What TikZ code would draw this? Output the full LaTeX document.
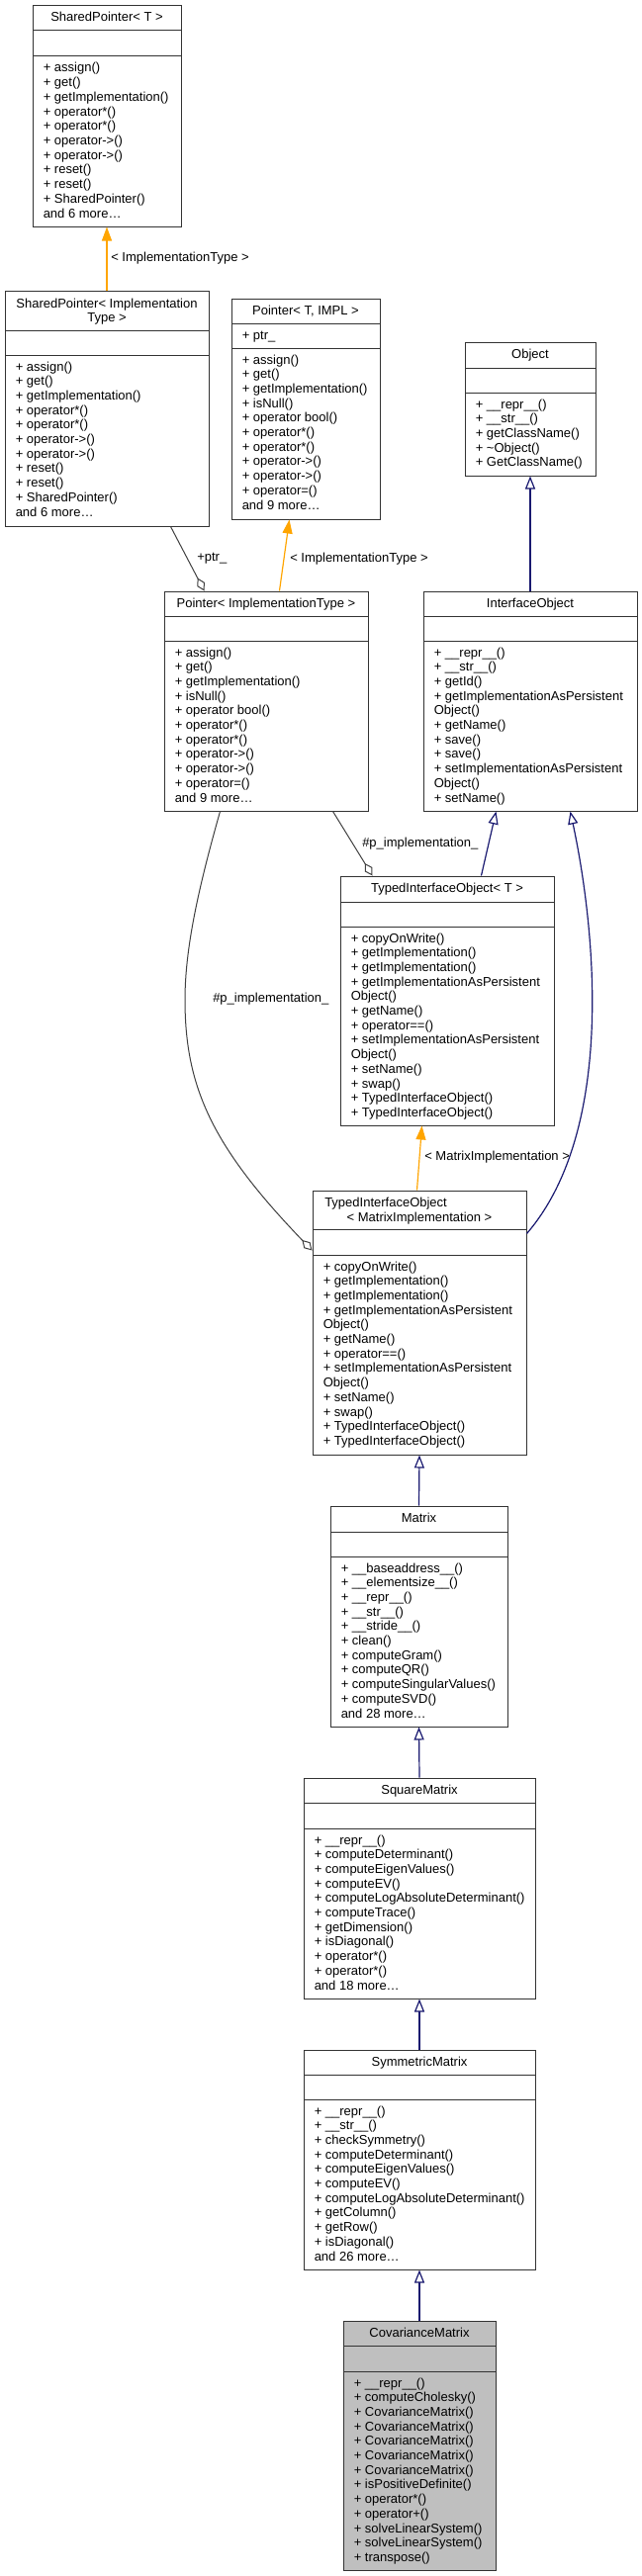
\documentclass[tikz,border=0pt]{standalone}
\usepackage{fontspec}
\setmainfont{Liberation Sans}
\usetikzlibrary{arrows.meta,fit,calc}
\definecolor{inhcol}{HTML}{191970}
\definecolor{tmplcol}{HTML}{FFA500}
\definecolor{usecol}{HTML}{404040}
\definecolor{covfill}{HTML}{BFBFBF}
\newcommand\umlfont{\fontsize{9.75}{11}\selectfont}
\newcommand\mlist[4]{\foreach \mitem [count=\mcount] in {#4} {\node[mtext] (#1-\mcount) at (#2,{#3+(\mcount-1)*14.7}) {\mitem};}}
\begin{document}
\begin{tikzpicture}[x=0.75pt,y=-0.75pt,
  every node/.style={font=\umlfont},
  cbox/.style={draw=black!80, line width=0.75pt, inner sep=0pt},
  sepline/.style={draw=black!80, line width=0.75pt},
  ttl/.style={anchor=base, inner sep=0pt},
  ttlw/.style={anchor=base west, inner sep=0pt},
  mtext/.style={anchor=base west, inner sep=0pt},
  elabel/.style={anchor=west, inner sep=0pt},
  inhline/.style={draw=inhcol, line width=0.9pt, -{Triangle[open, length=9.75pt, width=7.5pt]}},
  tmplline/.style={draw=tmplcol, line width=0.9pt, -{Triangle[length=10.5pt, width=7.5pt]}},
  useline/.style={draw=usecol, line width=0.75pt, -{Diamond[open, length=11pt, width=6.5pt]}}]
\useasboundingbox (0,0) rectangle (649,2605);
\fill[white] (0,0) rectangle (649,2605);

% SharedPointer< T >
\node[cbox, fit={(33,6) (183,229)}] (sp) {};
\draw[sepline] (33,31) -- (183,31);
\draw[sepline] (33,57) -- (183,57);
\node[ttl] (sp-t) at (108,22) {SharedPointer< T >};
\mlist{sp}{43.5}{73}{+ assign(), + get(), + getImplementation(), + operator*(), + operator*(), + operator->(), + operator->(), + reset(), + reset(), + SharedPointer(), and 6 more\ldots}

% SharedPointer< ImplementationType >
\node[cbox, fit={(5,294) (211,532)}] (spi) {};
\draw[sepline] (5,334) -- (211,334);
\draw[sepline] (5,359) -- (211,359);
\node[ttl] (spi-t1) at (108,311) {SharedPointer< Implementation};
\node[ttl] (spi-t2) at (108,325.5) {Type >};
\mlist{spi}{15.5}{375}{+ assign(), + get(), + getImplementation(), + operator*(), + operator*(), + operator->(), + operator->(), + reset(), + reset(), + SharedPointer(), and 6 more\ldots}

% Pointer< T, IMPL >
\node[cbox, fit={(234,302) (384,525)}] (pti) {};
\draw[sepline] (234,327) -- (384,327);
\draw[sepline] (234,352) -- (384,352);
\node[ttl] (pti-t) at (309,318) {Pointer< T, IMPL >};
\node[mtext] (pti-a) at (244.5,343) {+ ptr\_};
\mlist{pti}{244.5}{368}{+ assign(), + get(), + getImplementation(), + isNull(), + operator bool(), + operator*(), + operator*(), + operator->(), + operator->(), + operator=(), and 9 more\ldots}

% Object
\node[cbox, fit={(470,346) (602,481)}] (obj) {};
\draw[sepline] (470,372) -- (602,372);
\draw[sepline] (470,397) -- (602,397);
\node[ttl] (obj-t) at (536,362) {Object};
\mlist{obj}{480.5}{413}{+ \_\_repr\_\_(), + \_\_str\_\_(), + getClassName(), + \textasciitilde Object(), + GetClassName()}

% Pointer< ImplementationType >
\node[cbox, fit={(166,598) (372,820)}] (pimpl) {};
\draw[sepline] (166,623) -- (372,623);
\draw[sepline] (166,648) -- (372,648);
\node[ttl] (pimpl-t) at (269,614) {Pointer< ImplementationType >};
\mlist{pimpl}{176.5}{664}{+ assign(), + get(), + getImplementation(), + isNull(), + operator bool(), + operator*(), + operator*(), + operator->(), + operator->(), + operator=(), and 9 more\ldots}

% InterfaceObject
\node[cbox, fit={(428,598) (644,820)}] (iobj) {};
\draw[sepline] (428,623) -- (644,623);
\draw[sepline] (428,648) -- (644,648);
\node[ttl] (iobj-t) at (536,614) {InterfaceObject};
\mlist{iobj}{438.5}{664}{+ \_\_repr\_\_(), + \_\_str\_\_(), + getId(), + getImplementationAsPersistent, Object(), + getName(), + save(), + save(), + setImplementationAsPersistent, Object(), + setName()}

% TypedInterfaceObject< T >
\node[cbox, fit={(344,886) (560,1138)}] (tiot) {};
\draw[sepline] (344,912) -- (560,912);
\draw[sepline] (344,937) -- (560,937);
\node[ttl] (tiot-t) at (452,902) {TypedInterfaceObject< T >};
\mlist{tiot}{354.5}{953}{+ copyOnWrite(), + getImplementation(), + getImplementation(), + getImplementationAsPersistent, Object(), + getName(), + operator==(), + setImplementationAsPersistent, Object(), + setName(), + swap(), + TypedInterfaceObject(), + TypedInterfaceObject()}

% TypedInterfaceObject< MatrixImplementation >
\node[cbox, fit={(316,1204) (532,1471)}] (tiom) {};
\draw[sepline] (316,1243) -- (532,1243);
\draw[sepline] (316,1269) -- (532,1269);
\node[ttlw] (tiom-t1) at (328,1220.5) {TypedInterfaceObject};
\node[ttl] (tiom-t2) at (424,1235.3) {< MatrixImplementation >};
\mlist{tiom}{326.5}{1285}{+ copyOnWrite(), + getImplementation(), + getImplementation(), + getImplementationAsPersistent, Object(), + getName(), + operator==(), + setImplementationAsPersistent, Object(), + setName(), + swap(), + TypedInterfaceObject(), + TypedInterfaceObject()}

% Matrix
\node[cbox, fit={(334,1523) (513,1746)}] (mat) {};
\draw[sepline] (334,1549) -- (513,1549);
\draw[sepline] (334,1574) -- (513,1574);
\node[ttl] (mat-t) at (423.5,1539) {Matrix};
\mlist{mat}{344.5}{1590}{+ \_\_baseaddress\_\_(), + \_\_elementsize\_\_(), + \_\_repr\_\_(), + \_\_str\_\_(), + \_\_stride\_\_(), + clean(), + computeGram(), + computeQR(), + computeSingularValues(), + computeSVD(), and 28 more\ldots}

% SquareMatrix
\node[cbox, fit={(307,1798) (541,2021)}] (sq) {};
\draw[sepline] (307,1823) -- (541,1823);
\draw[sepline] (307,1849) -- (541,1849);
\node[ttl] (sq-t) at (424,1814) {SquareMatrix};
\mlist{sq}{317.5}{1865}{+ \_\_repr\_\_(), + computeDeterminant(), + computeEigenValues(), + computeEV(), + computeLogAbsoluteDeterminant(), + computeTrace(), + getDimension(), + isDiagonal(), + operator*(), + operator*(), and 18 more\ldots}

% SymmetricMatrix
\node[cbox, fit={(307,2073) (541,2295)}] (sym) {};
\draw[sepline] (307,2098) -- (541,2098);
\draw[sepline] (307,2123) -- (541,2123);
\node[ttl] (sym-t) at (424,2089) {SymmetricMatrix};
\mlist{sym}{317.5}{2139}{+ \_\_repr\_\_(), + \_\_str\_\_(), + checkSymmetry(), + computeDeterminant(), + computeEigenValues(), + computeEV(), + computeLogAbsoluteDeterminant(), + getColumn(), + getRow(), + isDiagonal(), and 26 more\ldots}

% CovarianceMatrix
\node[cbox, fill=covfill, fit={(347,2347) (501,2599)}] (cov) {};
\draw[sepline] (347,2372) -- (501,2372);
\draw[sepline] (347,2398) -- (501,2398);
\node[ttl] (cov-t) at (424,2363) {CovarianceMatrix};
\mlist{cov}{357.5}{2414}{+ \_\_repr\_\_(), + computeCholesky(), + CovarianceMatrix(), + CovarianceMatrix(), + CovarianceMatrix(), + CovarianceMatrix(), + CovarianceMatrix(), + isPositiveDefinite(), + operator*(), + operator+(), + solveLinearSystem(), + solveLinearSystem(), + transpose()}

% template instantiation edges
\draw[tmplline] (spi.north) -- (sp.south);
\node[elabel] (l1) at (112,261) {< ImplementationType >};
\draw[tmplline] ($(pimpl.north west)+(117,0)$) -- ($(pti.south west)+(59,0)$);
\node[elabel] (l2) at (293,565) {< ImplementationType >};
\draw[tmplline] ($(tiom.north west)+(106,0)$) -- ($(tiot.south west)+(83,0)$);
\node[elabel] (l3) at (429,1170) {< MatrixImplementation >};

% inheritance edges
\draw[inhline] (iobj.north) -- (obj.south);
\draw[inhline] ($(tiot.north west)+(143,0)$) -- ($(iobj.south west)+(74,0)$);
\draw[inhline] ($(tiom.north east)+(0,44)$) .. controls (625,1140) and (600,930) .. ($(iobj.south west)+(149,0)$);
\draw[inhline] (mat.north) -- (tiom.south);
\draw[inhline] (sq.north) -- (mat.south);
\draw[inhline] (sym.north) -- (sq.south);
\draw[inhline] (cov.north) -- (sym.south);

% usage edges
\draw[useline] ($(spi.south west)+(168,0)$) -- ($(pimpl.north west)+(41,0)$);
\node[elabel] (l4) at (199,565) {+ptr\_};
\draw[useline] ($(pimpl.south west)+(171,0)$) -- ($(tiot.north west)+(33,0)$);
\node[elabel] (l5) at (366,853) {\#p\_implementation\_};
\draw[useline] ($(pimpl.south west)+(57,0)$) .. controls (200,900) and (187,960) .. (187,1011) .. controls (187,1100) and (215,1160) .. ($(tiom.north west)+(0,61)$);
\node[elabel] (l6) at (215,1010) {\#p\_implementation\_};
\end{tikzpicture}
\end{document}
